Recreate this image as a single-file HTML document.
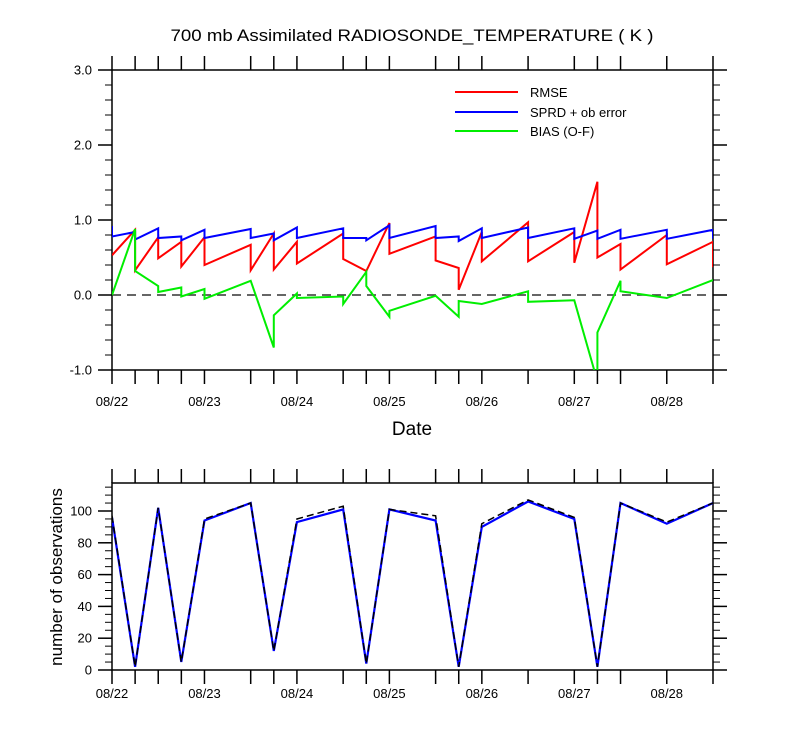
<!DOCTYPE html>
<html><head><meta charset="utf-8"><style>
body{margin:0;background:#fff}
svg{display:block;font-family:"Liberation Sans",Arial,sans-serif}
</style></head><body>
<svg id="chart" width="800" height="750" xmlns="http://www.w3.org/2000/svg">
<defs>
<clipPath id="clipTop"><rect x="112" y="70" width="601" height="300"/></clipPath>
<clipPath id="clipBot"><rect x="112" y="483" width="601" height="187"/></clipPath>
</defs>
<text x="412" y="41" font-size="17" text-anchor="middle" textLength="483" lengthAdjust="spacingAndGlyphs">700 mb Assimilated RADIOSONDE_TEMPERATURE ( K )</text>
<text x="412" y="435" font-size="19" text-anchor="middle">Date</text>
<text transform="translate(62,577) rotate(-90)" font-size="17" text-anchor="middle">number of observations</text>
<g id="topPlot"></g>
<g id="botPlot"></g>
<g>
<line x1="455" y1="92" x2="518" y2="92" stroke="#f00" stroke-width="2"/>
<text x="530" y="97" font-size="13">RMSE</text>
<line x1="455" y1="112" x2="518" y2="112" stroke="#00f" stroke-width="2"/>
<text x="530" y="117" font-size="13">SPRD + ob error</text>
<line x1="455" y1="131" x2="518" y2="131" stroke="#0e0" stroke-width="2"/>
<text x="530" y="136" font-size="13">BIAS (O-F)</text>
</g>
</svg>
<script>
const times = [0,6,12,18,24,36,42,48,60,66,72,84,90,96,108,120,126,132,144,156];
const rmseArrive = [0.53,0.87,0.77,0.71,0.77,0.67,0.82,0.71,0.82,0.32,0.96,0.78,0.36,0.84,0.97,0.84,1.51,0.68,0.80,0.71];
const rmseDepart = [0.53,0.33,0.49,0.38,0.40,0.33,0.34,0.42,0.48,0.32,0.55,0.46,0.07,0.45,0.45,0.43,0.50,0.34,0.41,0.37];
const sprdArrive = [0.92,0.84,0.89,0.78,0.87,0.88,0.82,0.90,0.89,0.76,0.93,0.92,0.78,0.89,0.90,0.89,0.86,0.87,0.87,0.87];
const sprdDepart = [0.78,0.74,0.76,0.73,0.76,0.76,0.73,0.76,0.76,0.73,0.76,0.76,0.72,0.76,0.76,0.75,0.75,0.75,0.75,0.75];
const biasArrive = [0.00,0.88,0.12,0.10,0.08,0.19,-0.70,0.02,-0.02,0.31,-0.29,-0.01,-0.29,-0.12,0.05,-0.07,-1.15,0.19,-0.04,0.20];
const biasDepart = [0.00,0.32,0.04,-0.02,-0.05,0.19,-0.27,-0.04,-0.12,0.12,-0.21,-0.01,-0.08,-0.12,-0.09,-0.07,-0.50,0.05,-0.04,0.20];
const obsUsed = [96,2,102,5,94,105,12,93,101,4,101,94,2,90,106,95,2,105,92,105];
const obsTotal = [97,2,102,5,95,105,12,95,103,4,101,97,2,92,107,96,2,105,93,105];
const dateLabels = ["08/22","08/23","08/24","08/25","08/26","08/27","08/28"];
const topTicks = [3.0,2.0,1.0,0.0,-1.0];
const botTicks = [0,20,40,60,80,100];

const NS="http://www.w3.org/2000/svg";
const X0=112,X1=713,T1=156;
const xs=t=>X0+(X1-X0)*t/T1;
const yTop=v=>295-75*v;
const yBot=v=>670-1.59*v;
function mk(p,tag,a){const e=document.createElementNS(NS,tag);for(const k in a)e.setAttribute(k,a[k]);p.appendChild(e);return e;}
const gTop=document.getElementById('topPlot'),gBot=document.getElementById('botPlot');

function frame(g,yt,yb,ticks,yf,fmt,minorStep,minLo,minHi,labY){
  mk(g,'rect',{x:X0,y:yt,width:X1-X0,height:yb-yt,fill:'none',stroke:'#000','stroke-width':1.5});
  times.forEach(t=>{const x=xs(t);
    mk(g,'line',{x1:x,y1:yt,x2:x,y2:yt-14,stroke:'#000','stroke-width':1.5});
    mk(g,'line',{x1:x,y1:yb,x2:x,y2:yb+14,stroke:'#000','stroke-width':1.5});});
  for(let v=minLo;v<=minHi+1e-9;v+=minorStep){const y=yf(v);
    mk(g,'line',{x1:X0,y1:y,x2:X0-7,y2:y,stroke:'#000','stroke-width':1});
    mk(g,'line',{x1:X1,y1:y,x2:X1+7,y2:y,stroke:'#000','stroke-width':1});}
  ticks.forEach(v=>{const y=yf(v);
    mk(g,'line',{x1:X0,y1:y,x2:X0-14,y2:y,stroke:'#000','stroke-width':1.5});
    mk(g,'line',{x1:X1,y1:y,x2:X1+14,y2:y,stroke:'#000','stroke-width':1.5});
    const t=mk(g,'text',{x:X0-20,y:y+4.5,'font-size':13,'text-anchor':'end'});t.textContent=fmt(v);
    
    });
  dateLabels.forEach((d,i)=>{const t=mk(g,'text',{x:xs(i*24),y:labY,'font-size':13,'text-anchor':'middle'});t.textContent=d;
    
    });
}
frame(gTop,70,370,topTicks,yTop,v=>v.toFixed(1),0.2,-1,3,406);
frame(gBot,483,670,botTicks,yBot,v=>String(v),5,0,115,698);

const zl=mk(gTop,'line',{x1:X0,y1:yTop(0),x2:X1,y2:yTop(0),stroke:'#333','stroke-width':1.5,'stroke-dasharray':'9,6'});



function saw(arr,dep,color,name){
  let d='';
  times.forEach((t,i)=>{const x=xs(t);
    d+=(i?'L':'M')+x.toFixed(1)+','+yTop(arr[i]).toFixed(1)+'L'+x.toFixed(1)+','+yTop(dep[i]).toFixed(1);});
  const p=mk(gTop,'path',{d:d,fill:'none',stroke:color,'stroke-width':2,'clip-path':'url(#clipTop)'});
  
  
}
saw(rmseArrive,rmseDepart,'#f00','rmse-line');
saw(sprdArrive,sprdDepart,'#00f','sprd-line');
saw(biasArrive,biasDepart,'#0e0','bias-line');

function line(vals,color,dash,name){
  const d=times.map((t,i)=>(i?'L':'M')+xs(t).toFixed(1)+','+yBot(vals[i]).toFixed(1)).join('');
  const a={d:d,fill:'none',stroke:color,'stroke-width':dash?1.5:2.2,'clip-path':'url(#clipBot)'};
  if(dash)a['stroke-dasharray']='7,4';
  const p=mk(gBot,'path',a);
  
  
}
line(obsUsed,'#00f',false,'obs-used-line');
line(obsTotal,'#000',true,'obs-total-line');
</script>
</body></html>
